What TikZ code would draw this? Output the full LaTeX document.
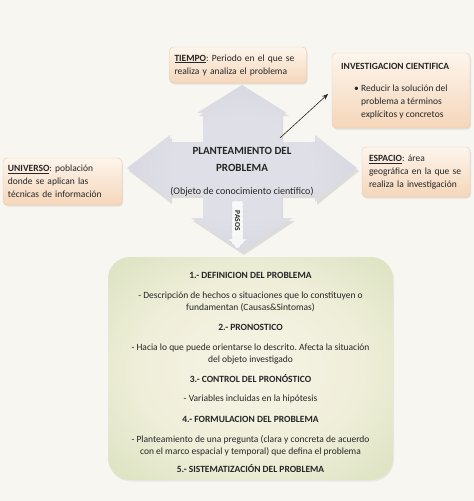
\documentclass[tikz,border=0pt]{standalone}
\usepackage{fontspec}
\setmainfont{Carlito}
\usetikzlibrary{shadows,arrows.meta}
\definecolor{bg}{HTML}{F8F6F1}
\definecolor{txt}{HTML}{262626}
\definecolor{peachtop}{HTML}{FDF5EC}
\definecolor{peachbot}{HTML}{F5D6BA}
\definecolor{peachdraw}{HTML}{E9CBAE}
\definecolor{q0}{HTML}{DFDFE7}
\definecolor{q1}{HTML}{D5D5DF}
\definecolor{q2}{HTML}{C7C7D4}
\definecolor{q3}{HTML}{B6B6C6}
\pgfdeclareradialshading{quadshade}{\pgfpoint{0bp}{0bp}}{%
  color(0bp)=(q0); color(15bp)=(q0); color(30bp)=(q1); color(45bp)=(q2); color(60bp)=(q3); color(75bp)=(q3)}
\definecolor{g0}{HTML}{F6F4E6}
\definecolor{g1}{HTML}{EFEED9}
\definecolor{g2}{HTML}{D8E0BC}
\definecolor{g3}{HTML}{C5D09E}
\pgfdeclareradialshading{greenshade}{\pgfpoint{0bp}{0bp}}{%
  color(0bp)=(g0); color(20bp)=(g1); color(38bp)=(g2); color(54bp)=(g3); color(75bp)=(g3)}
\newcommand{\boxfont}{\fontsize{9.5}{13}\selectfont}
\frenchspacing
\begin{document}
\begin{tikzpicture}[x=1pt,y=-1pt,
  peachbox/.style={rounded corners=4pt, draw=peachdraw, line width=0.4pt,
    top color=peachtop, bottom color=peachbot,
    drop shadow={opacity=0.18, shadow xshift=1pt, shadow yshift=-1.5pt},
    inner ysep=0pt, font=\boxfont, text=txt},
  plain/.style={inner sep=0pt, font=\boxfont, text=txt},
  greenbox/.style={rounded corners=22pt, draw=none, shading=greenshade,
    drop shadow={opacity=0.12, shadow xshift=1pt, shadow yshift=-1.5pt}}]
\fill[bg] (0,0) rectangle (474,501);
\useasboundingbox (0,0) rectangle (474,501);

% quad arrow shadow
\fill[black, opacity=0.10, shift={(2,3)}]
  (242,85) -- (287,113) -- (281,113) -- (281,142) -- (315,142) -- (315,135) -- (357,168)
  -- (315,202) -- (315,195) -- (281,195) -- (281,218) -- (293,218) -- (242,252)
  -- (191,218) -- (203,218) -- (203,195) -- (170,195) -- (170,201) -- (127,168)
  -- (170,135) -- (170,142) -- (203,142) -- (203,113) -- (197,113) -- cycle;
% quad arrow
\shade[shading=quadshade]
  (242,85) -- (287,113) -- (281,113) -- (281,142) -- (315,142) -- (315,135) -- (357,168)
  -- (315,202) -- (315,195) -- (281,195) -- (281,218) -- (293,218) -- (242,252)
  -- (191,218) -- (203,218) -- (203,195) -- (170,195) -- (170,201) -- (127,168)
  -- (170,135) -- (170,142) -- (203,142) -- (203,113) -- (197,113) -- cycle;

% PASOS small arrow
\path[fill=white, fill opacity=0.8, draw=gray!45, densely dashed, line width=0.3pt]
  (232,201) -- (243,201) -- (243,239) -- (247,239) -- (237.5,249) -- (228,239) -- (232,239) -- cycle;
\node[plain, rotate=-90, font=\bfseries\fontsize{7.5}{8}\selectfont] (pasos) at (237.5,221) {PASOS};

% central text
\node[plain, align=center, font=\bfseries\fontsize{11}{17}\selectfont] (title) at (242,159) {PLANTEAMIENTO DEL\\PROBLEMA};
\node[plain, font=\fontsize{10}{12}\selectfont] (obj) at (242,192) {(Objeto de conocimiento científico)};

% peach boxes
\node[peachbox, minimum height=36pt, text width=127pt, inner xsep=5pt, align=left] (tiempo) at (238,65)
  {\underline{\textbf{TIEMPO}}: Periodo en el que se\\ realiza y analiza el problema};
\node[peachbox, minimum height=47pt, text width=109pt, inner xsep=5pt, align=left] (universo) at (62.5,181.5)
  {\underline{\textbf{UNIVERSO}}: población\\ donde se aplican las\\ técnicas de información};
\node[peachbox, minimum height=50pt, text width=94pt, inner xsep=7pt, align=left] (espacio) at (416,172)
  {\underline{\textbf{ESPACIO}}: área\\ geográfica en la que se\\ realiza la investigación};
\node[peachbox, minimum width=138pt, minimum height=75pt] (inv) at (401,90.5) {};
\node[plain, anchor=west, font=\bfseries\fontsize{9.5}{13}\selectfont] (invt) at (341,66) {INVESTIGACION CIENTIFICA};
\node[plain] (invdot) at (356.5,89) {\textbullet};
\node[plain, anchor=west, align=left] (invb) at (361,101.5)
  {Reducir la solución del\\ problema a términos\\ explícitos y concretos};

% connector
\coordinate (arrstart) at (280,138);
\draw[-{Stealth[length=6pt,width=4.5pt]}, line width=0.6pt, txt, shorten >=5pt] (arrstart) -- (inv.west);

% green box
\node[greenbox, minimum width=285pt, minimum height=223pt] (steps) at (250.5,368.5) {};
\node[plain, align=center, font=\fontsize{9.5}{12}\selectfont] (stepstext) at (250.5,372.5)
  {\textbf{1.- DEFINICION DEL PROBLEMA}\\[8pt]
   - Descripción de hechos o situaciones que lo constituyen o\\
   fundamentan (Causas\&Sintomas)\\[8pt]
   \textbf{2.- PRONOSTICO}\\[8pt]
   - Hacia lo que puede orientarse lo descrito. Afecta la situación\\
   del objeto investigado\\[8pt]
   \textbf{3.- CONTROL DEL PRONÓSTICO}\\[7pt]
   - Variables incluidas en la hipótesis\\[9pt]
   \textbf{4.- FORMULACION DEL PROBLEMA}\\[8pt]
   - Planteamiento de una pregunta (clara y concreta de acuerdo\\
   con el marco espacial y temporal) que defina el problema\\[6pt]
   \textbf{5.- SISTEMATIZACIÓN DEL PROBLEMA}};
\end{tikzpicture}
\end{document}
